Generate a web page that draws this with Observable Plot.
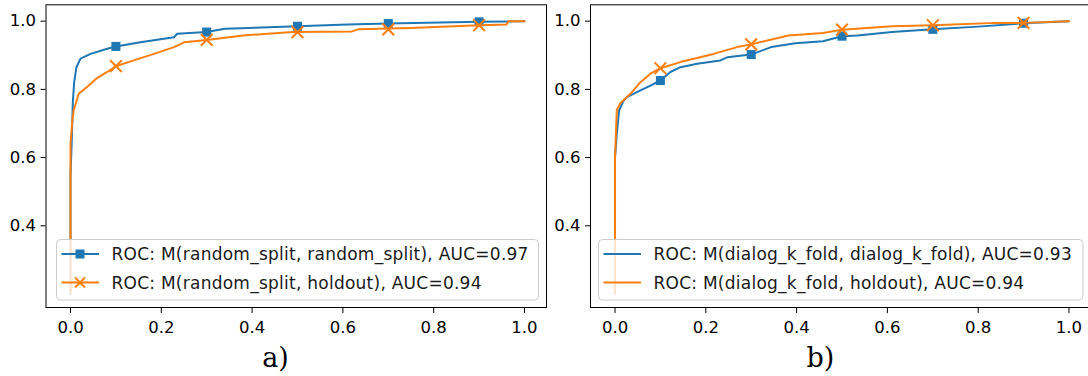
<!DOCTYPE html>
<html><head><meta charset="utf-8">
<script src="https://cdn.jsdelivr.net/npm/d3@7"></script>
<script src="https://cdn.jsdelivr.net/npm/@observablehq/plot@0.6"></script>
<style>
html,body{margin:0;padding:0;background:#fff;}
#root{position:relative;width:1088px;height:376px;overflow:hidden;background:#fff;}
#root > svg, #root > div{position:absolute;}
.cap{font-family:"DejaVu Serif";font-size:27px;line-height:27px;color:#000;width:60px;text-align:center;}
</style></head><body><div id="root"></div>
<script>
// ---------- data ----------
const xTicks = [0, 0.2, 0.4, 0.6, 0.8, 1.0];
const yTicks = [0.4, 0.6, 0.8, 1.0];
const markerFpr = [0.1, 0.3, 0.5, 0.7, 0.9];

// panel a) random_split
const aRandFpr = [0, 0, 0.003, 0.005, 0.008, 0.013, 0.022, 0.044, 0.081, 0.1, 0.154, 0.228, 0.235, 0.3, 0.34, 0.5, 0.61, 0.7, 0.9, 1.0];
const aRandTpr = [0.2, 0.55, 0.66, 0.76, 0.82, 0.865, 0.89, 0.904, 0.919, 0.926, 0.938, 0.953, 0.963, 0.968, 0.978, 0.985, 0.99, 0.993, 0.998, 1.0];
const aRandMarkTpr = [0.926, 0.968, 0.985, 0.993, 0.998];

const aHoldFpr = [0, 0, 0.004, 0.007, 0.013, 0.018, 0.037, 0.059, 0.081, 0.1, 0.139, 0.184, 0.228, 0.25, 0.3, 0.38, 0.458, 0.49, 0.62, 0.634, 0.75, 0.9, 0.96, 0.965, 1.0];
const aHoldTpr = [0.2, 0.64, 0.709, 0.738, 0.765, 0.787, 0.808, 0.834, 0.851, 0.868, 0.885, 0.904, 0.924, 0.938, 0.945, 0.958, 0.965, 0.968, 0.970, 0.976, 0.98, 0.988, 0.99, 1.0, 1.0];
const aHoldMarkTpr = [0.868, 0.945, 0.968, 0.976, 0.988];

// panel b) dialog_k_fold
const bKfoldFpr = [0, 0, 0.004, 0.009, 0.019, 0.026, 0.056, 0.078, 0.1, 0.122, 0.144, 0.181, 0.232, 0.247, 0.3, 0.344, 0.397, 0.458, 0.5, 0.534, 0.61, 0.7, 0.8, 0.9, 1.0];
const bKfoldTpr = [0.2, 0.6, 0.67, 0.738, 0.767, 0.777, 0.797, 0.811, 0.826, 0.851, 0.865, 0.875, 0.885, 0.894, 0.902, 0.924, 0.935, 0.941, 0.956, 0.958, 0.968, 0.976, 0.984, 0.994, 1.0];
const bKfoldMarkTpr = [0.826, 0.902, 0.956, 0.976, 0.994];

const bHoldFpr = [0, 0, 0.004, 0.012, 0.034, 0.056, 0.078, 0.1, 0.144, 0.217, 0.269, 0.3, 0.382, 0.458, 0.5, 0.61, 0.7, 0.84, 0.9, 1.0];
const bHoldTpr = [0.2, 0.6, 0.74, 0.76, 0.787, 0.821, 0.846, 0.862, 0.88, 0.904, 0.924, 0.932, 0.958, 0.965, 0.975, 0.985, 0.988, 0.995, 0.995, 1.0];
const bHoldMarkTpr = [0.862, 0.932, 0.975, 0.988, 0.995];

const legendA = ["ROC: M(random_split, random_split), AUC=0.97", "ROC: M(random_split, holdout), AUC=0.94"];
const legendB = ["ROC: M(dialog_k_fold, dialog_k_fold), AUC=0.93", "ROC: M(dialog_k_fold, holdout), AUC=0.94"];
const captions = ["a)", "b)"];

const BLUE = "#1f77b4", ORANGE = "#ff7f0e";
const pts = (xs, ys) => xs.map((x, i) => ({x, y: ys[i]}));

function panel(series, marginLeft) {
  const marks = [];
  for (const s of series) {
    marks.push(Plot.line(pts(s.fpr, s.tpr), {x: "x", y: "y", stroke: s.color, strokeWidth: 2}));
    marks.push(Plot.dot(pts(markerFpr, s.mark), {
      x: "x", y: "y", symbol: s.symbol, r: s.symbol === "square" ? 5.1 : 5.4,
      fill: s.symbol === "square" ? s.color : "none",
      stroke: s.symbol === "square" ? "none" : s.color,
      strokeWidth: 2
    }));
  }
  marks.push(Plot.frame({stroke: "#000", strokeWidth: 1}));
  const svg = Plot.plot({
    width: marginLeft + 500.5 + 1.5, height: 340,
    marginLeft, marginRight: 1.5, marginTop: 4.3, marginBottom: 33,
    style: {fontFamily: "DejaVu Sans", fontSize: "16.5px", color: "#000", background: "none", overflow: "visible", maxWidth: "none"},
    x: {domain: [-0.054, 1.0485], ticks: xTicks, tickFormat: d3.format(".1f"), label: null, tickSize: 6, tickPadding: 7.5},
    y: {domain: [0.1604, 1.048], ticks: yTicks, tickFormat: d3.format(".1f"), label: null, tickSize: 5, tickPadding: 5},
    marks
  });
  return svg;
}

const root = document.getElementById("root");

const pa = panel([
  {fpr: aRandFpr, tpr: aRandTpr, mark: aRandMarkTpr, color: BLUE, symbol: "square"},
  {fpr: aHoldFpr, tpr: aHoldTpr, mark: aHoldMarkTpr, color: ORANGE, symbol: "times"}
], 45.5);
pa.style.left = "0px"; pa.style.top = "0px";

const pb = panel([
  {fpr: bKfoldFpr, tpr: bKfoldTpr, mark: bKfoldMarkTpr, color: BLUE, symbol: "square"},
  {fpr: bHoldFpr, tpr: bHoldTpr, mark: bHoldMarkTpr, color: ORANGE, symbol: "times"}
], 46);
pb.style.left = "544px"; pb.style.top = "0px";

root.appendChild(pb);
root.appendChild(pa);

// ---------- legends ----------
const leg = d3.create("svg").attr("width", 1088).attr("height", 376)
  .style("position", "absolute").style("left", "0px").style("top", "0px");

function drawLegend(box, labels, withMarkers) {
  const g = leg.append("g");
  g.append("rect").attr("x", box.x).attr("y", box.y).attr("width", box.w).attr("height", box.h)
    .attr("rx", 4).attr("fill", "#fff").attr("fill-opacity", 0.8).attr("stroke", "#cccccc").attr("stroke-width", 1);
  const colors = [BLUE, ORANGE];
  labels.forEach((lab, i) => {
    const cy = box.y + 14.5 + i * 28.5;
    g.append("line").attr("x1", box.x + 5).attr("x2", box.x + 42.5).attr("y1", cy).attr("y2", cy)
      .attr("stroke", colors[i]).attr("stroke-width", 2);
    if (withMarkers) {
      const mx = box.x + 23.5;
      if (i === 0) {
        g.append("rect").attr("x", mx - 4.5).attr("y", cy - 4.5).attr("width", 9).attr("height", 9).attr("fill", colors[i]);
      } else {
        g.append("path").attr("d", `M${mx-5},${cy-5}L${mx+5},${cy+5}M${mx-5},${cy+5}L${mx+5},${cy-5}`)
          .attr("stroke", colors[i]).attr("stroke-width", 2).attr("fill", "none");
      }
    }
    g.append("text").attr("x", box.x + box.tx).attr("y", cy + 6.2)
      .attr("font-family", "DejaVu Sans").attr("font-size", 17).attr("letter-spacing", 0.25)
      .attr("fill", "#1a1a1a").text(lab);
  });
}
drawLegend({x: 56.5, y: 239.5, w: 482, h: 60.5, tx: 55}, legendA, true);
drawLegend({x: 598.5, y: 239.5, w: 484.5, h: 60.5, tx: 55}, legendB, false);
root.appendChild(leg.node());

// ---------- captions ----------
[[245.5, captions[0]], [790.5, captions[1]]].forEach(([left, t]) => {
  const d = document.createElement("div");
  d.className = "cap";
  d.style.left = left + "px";
  d.style.top = "343.5px";
  d.textContent = t;
  root.appendChild(d);
});
</script>
</body></html>
